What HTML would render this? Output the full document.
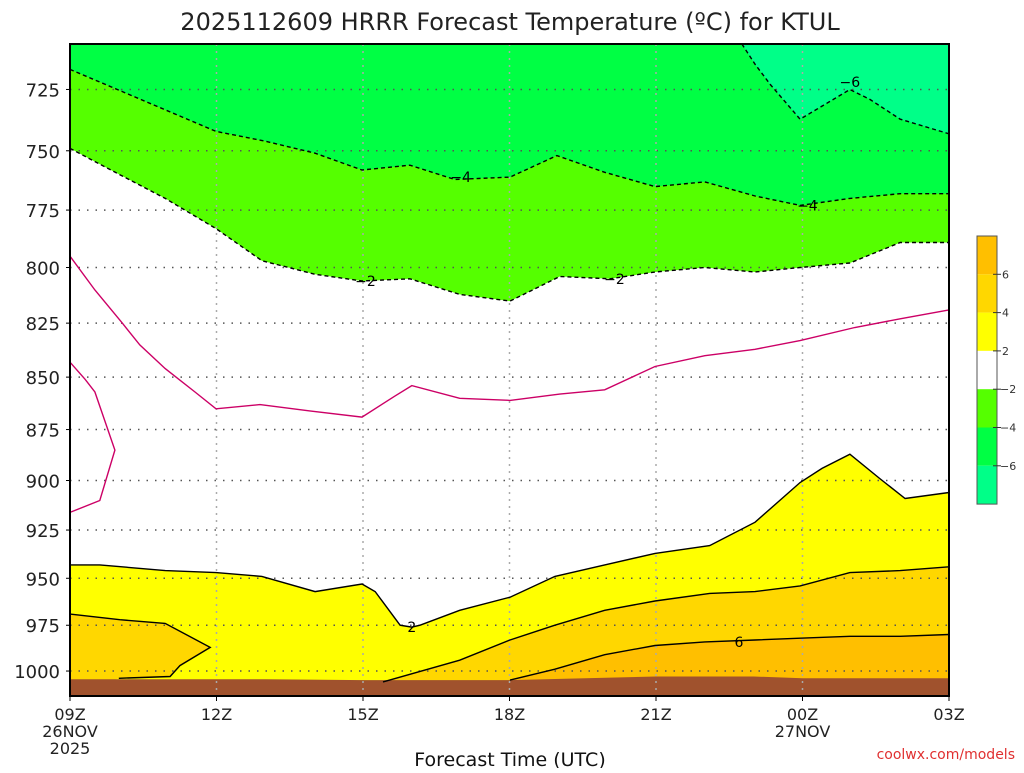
<!DOCTYPE html>
<html><head><meta charset="utf-8"><style>
body{margin:0;background:#fff;width:1024px;height:768px;overflow:hidden}
svg{font-family:"DejaVu Sans","Liberation Sans",sans-serif}
</style></head><body>
<svg id="chart" width="1024" height="768" viewBox="0 0 1024 768" xmlns="http://www.w3.org/2000/svg">
<text x="510" y="30" font-size="24" text-anchor="middle" fill="#222">2025112609 HRRR Forecast Temperature (ºC) for KTUL</text>
<g id="plot"></g>
<text x="510" y="766" font-size="19" text-anchor="middle" fill="#111">Forecast Time (UTC)</text>
<text x="1015" y="759" font-size="14" text-anchor="end" fill="#e03030">coolwx.com/models</text>
</svg>
<script>
// ---- data (hour offset from 09Z, pressure hPa) ----
const pressureTicks=[725,750,775,800,825,850,875,900,925,950,975,1000];
const timeTicks=[0,3,6,9,12,15,18];
const timeLabels=["09Z","12Z","15Z","18Z","21Z","00Z","03Z"];
const levels=[6,4,2,-2,-4,-6];
const levelColors=["#ffbf00","#ffd700","#ffff00","#ffffff","#55ff00","#00ff44","#00ff88"];
const m6H=[13.76,14.03,14.34,14.95,15.97,16.38,17,18];
const m6P=[707,715,723,737,725,729,737,743];
const m4H=[0,2.99,3.99,5.02,5.98,6.96,7.88,9.01,9.97,10.95,11.98,13,14.03,14.95,15.97,17,18];
const m4P=[717,742,746,751,758,756,762,761,752,759,765,763,769,773,770,768,768];
const m2H=[0,1.02,1.95,2.99,3.93,5.02,5.98,6.96,7.98,9.01,10.03,11.06,11.98,13,14.03,14.95,15.97,17,18];
const m2P=[749,760,770,783,797,803,806,805,812,815,804,805,802,800,802,800,798,789,789];
const z0H=[0,0.51,1.07,1.43,1.95,2.56,2.99,3.89,4.91,5.98,6.65,7,7.98,9.01,10.03,10.95,11.98,13,14.03,14.95,16.07,17,18];
const z0P=[795,810,825,835,846,857,865,863,866,869,859,854,860,861,858,856,845,840,837,833,827,823,819];
const z0bH=[0,0.31,0.51,0.92,0.61,0];
const z0bP=[843,851,857,885,910,916];
const p2H=[0,0.61,1.95,2.99,3.93,5.02,5.98,6.25,6.76,7,7.17,7.98,9.01,9.93,10.95,11.98,13.1,14.03,14.95,15.4,15.97,16.58,17.1,18];
const p2P=[943,943,946,947,949,957,953,957,975,976,975,967,960,949,943,937,933,921,901,894,887,899,909,906];
const p4aH=[0,1.02,1.95,2.87,2.25,2.05,1];
const p4aP=[969,972,974,987,997,1003,1004];
const p4bH=[6.41,7.98,9.01,9.93,10.95,11.98,13.1,14.03,14.95,15.97,17,18];
const p4bP=[1006,994,983,975,967,962,958,957,954,947,946,944];
const p6H=[9.01,9.93,10.95,11.98,13,14.03,14.95,15.97,17,18];
const p6P=[1005,999,991,986,984,983,982,981,981,980];
const groundH=[0,4,6,9,12,13,14,15,16,18];
const groundP=[1004.5,1004.5,1005,1005,1003,1003,1003,1004,1004,1004];
const labelText=["-6","-4","-4","-2","-2","2","6"];
const labelH=[15.97,8,15.1,6.05,11.15,7,13.7];
const labelP=[722,761,773,806,805,976,984];

// ---- axes ----
const X0=70,X1=949,Y0=44,Y1=696,PT=707,PB=1013.9;
const xs=h=>X0+h*(X1-X0)/18;
const ys=p=>Y0+(Math.log(p)-Math.log(PT))/(Math.log(PB)-Math.log(PT))*(Y1-Y0);
const NS="http://www.w3.org/2000/svg";
const g=document.getElementById('plot');
function mk(tag,attrs,parent){const e=document.createElementNS(NS,tag);for(const k in attrs)e.setAttribute(k,attrs[k]);(parent||g).appendChild(e);return e;}
const pts=(H,P)=>H.map((h,i)=>xs(h).toFixed(1)+','+ys(P[i]).toFixed(1));

let e;
e=mk('rect',{x:X0,y:Y0,width:X1-X0,height:Y1-Y0,fill:'#fff'});


function fill(list,color,name){const el=mk('polygon',{points:list.join(' '),fill:color});

}
fill([X0+','+Y0,...pts(m2H,m2P),X1+','+Y0],levelColors[4],'fill-minus2-to-minus4');
fill([X0+','+Y0,...pts(m4H,m4P),X1+','+Y0],levelColors[5],'fill-minus4-to-minus6');
fill([...pts(m6H,m6P),X1+','+Y0],levelColors[6],'fill-below-minus6');
fill([...pts(p2H,p2P),X1+','+Y1,X0+','+Y1],levelColors[2],'fill-2-to-4');
fill([...pts(p4aH,p4aP),X0+','+Y1],levelColors[1],'fill-4-to-6-left');
fill([...pts(p4bH,p4bP),X1+','+Y1,xs(p4bH[0])+','+Y1],levelColors[1],'fill-4-to-6-right');
fill([...pts(p6H,p6P),X1+','+Y1,xs(p6H[0])+','+Y1],levelColors[0],'fill-above-6');
fill([...pts(groundH,groundP),X1+','+Y1,X0+','+Y1],'#a0522d','ground-fill');
pressureTicks.forEach(p=>{e=mk('line',{x1:X0,x2:X1,y1:ys(p),y2:ys(p),stroke:'#555','stroke-dasharray':'1.5 7','stroke-width':1.5});

});
timeTicks.slice(1,-1).forEach(h=>{e=mk('line',{x1:xs(h),x2:xs(h),y1:Y0,y2:Y1,stroke:'#aaa','stroke-dasharray':'2 5','stroke-width':1.5});

});
function line(H,P,color,dash,name){const el=mk('polyline',{points:pts(H,P).join(' '),fill:'none',stroke:color,'stroke-width':1.4,'stroke-dasharray':dash||'none'});

}
line(m6H,m6P,'#000','4 3','contour-minus6');
line(m4H,m4P,'#000','4 3','contour-minus4');
line(m2H,m2P,'#000','4 3','contour-minus2');
line(z0H,z0P,'#cc0066','','contour-zero');
line(z0bH,z0bP,'#cc0066','','contour-zero-left');
line(p2H,p2P,'#000','','contour-2');
line(p4aH,p4aP,'#000','','contour-4-left');
line(p4bH,p4bP,'#000','','contour-4-right');
line(p6H,p6P,'#000','','contour-6');
labelText.forEach((t,i)=>{e=mk('text',{x:xs(labelH[i]),y:ys(labelP[i])+5,'font-size':14,'text-anchor':'middle',fill:'#000'});e.textContent=t.replace('-','−');

});
e=mk('rect',{x:X0,y:Y0,width:X1-X0,height:Y1-Y0,fill:'none',stroke:'#000','stroke-width':2});


pressureTicks.forEach(p=>{e=mk('text',{x:60,y:ys(p)+7,'font-size':18,'text-anchor':'end',fill:'#222'});e.textContent=p;


mk('line',{x1:X0-4,x2:X0,y1:ys(p),y2:ys(p),stroke:'#000'});});
timeTicks.forEach((h,i)=>{e=mk('text',{x:xs(h),y:720,'font-size':16,'text-anchor':'middle',fill:'#222'});e.textContent=timeLabels[i];


mk('line',{x1:xs(h),x2:xs(h),y1:Y1,y2:Y1+5,stroke:'#000'});});
[['26NOV',0,737],['2025',0,754],['27NOV',15,737]].forEach(a=>{e=mk('text',{x:xs(a[1]),y:a[2],'font-size':16,'text-anchor':'middle',fill:'#222'});e.textContent=a[0];

});
const CB=236,CH=38.3;
levelColors.forEach((c,i)=>{e=mk('rect',{x:977,y:CB+i*CH,width:20,height:CH,fill:c});

});
e=mk('rect',{x:977,y:CB,width:20,height:CH*7,fill:'none',stroke:'#555'});


levels.forEach((l,i)=>{const y=CB+(i+1)*CH;mk('line',{x1:993,x2:1001,y1:y,y2:y,stroke:'#333'});
e=mk('text',{x:l<0?1000:1002,y:y+4,'font-size':11,fill:'#333'});e.textContent=String(l).replace('-','−');

});
</script>
</body></html>
